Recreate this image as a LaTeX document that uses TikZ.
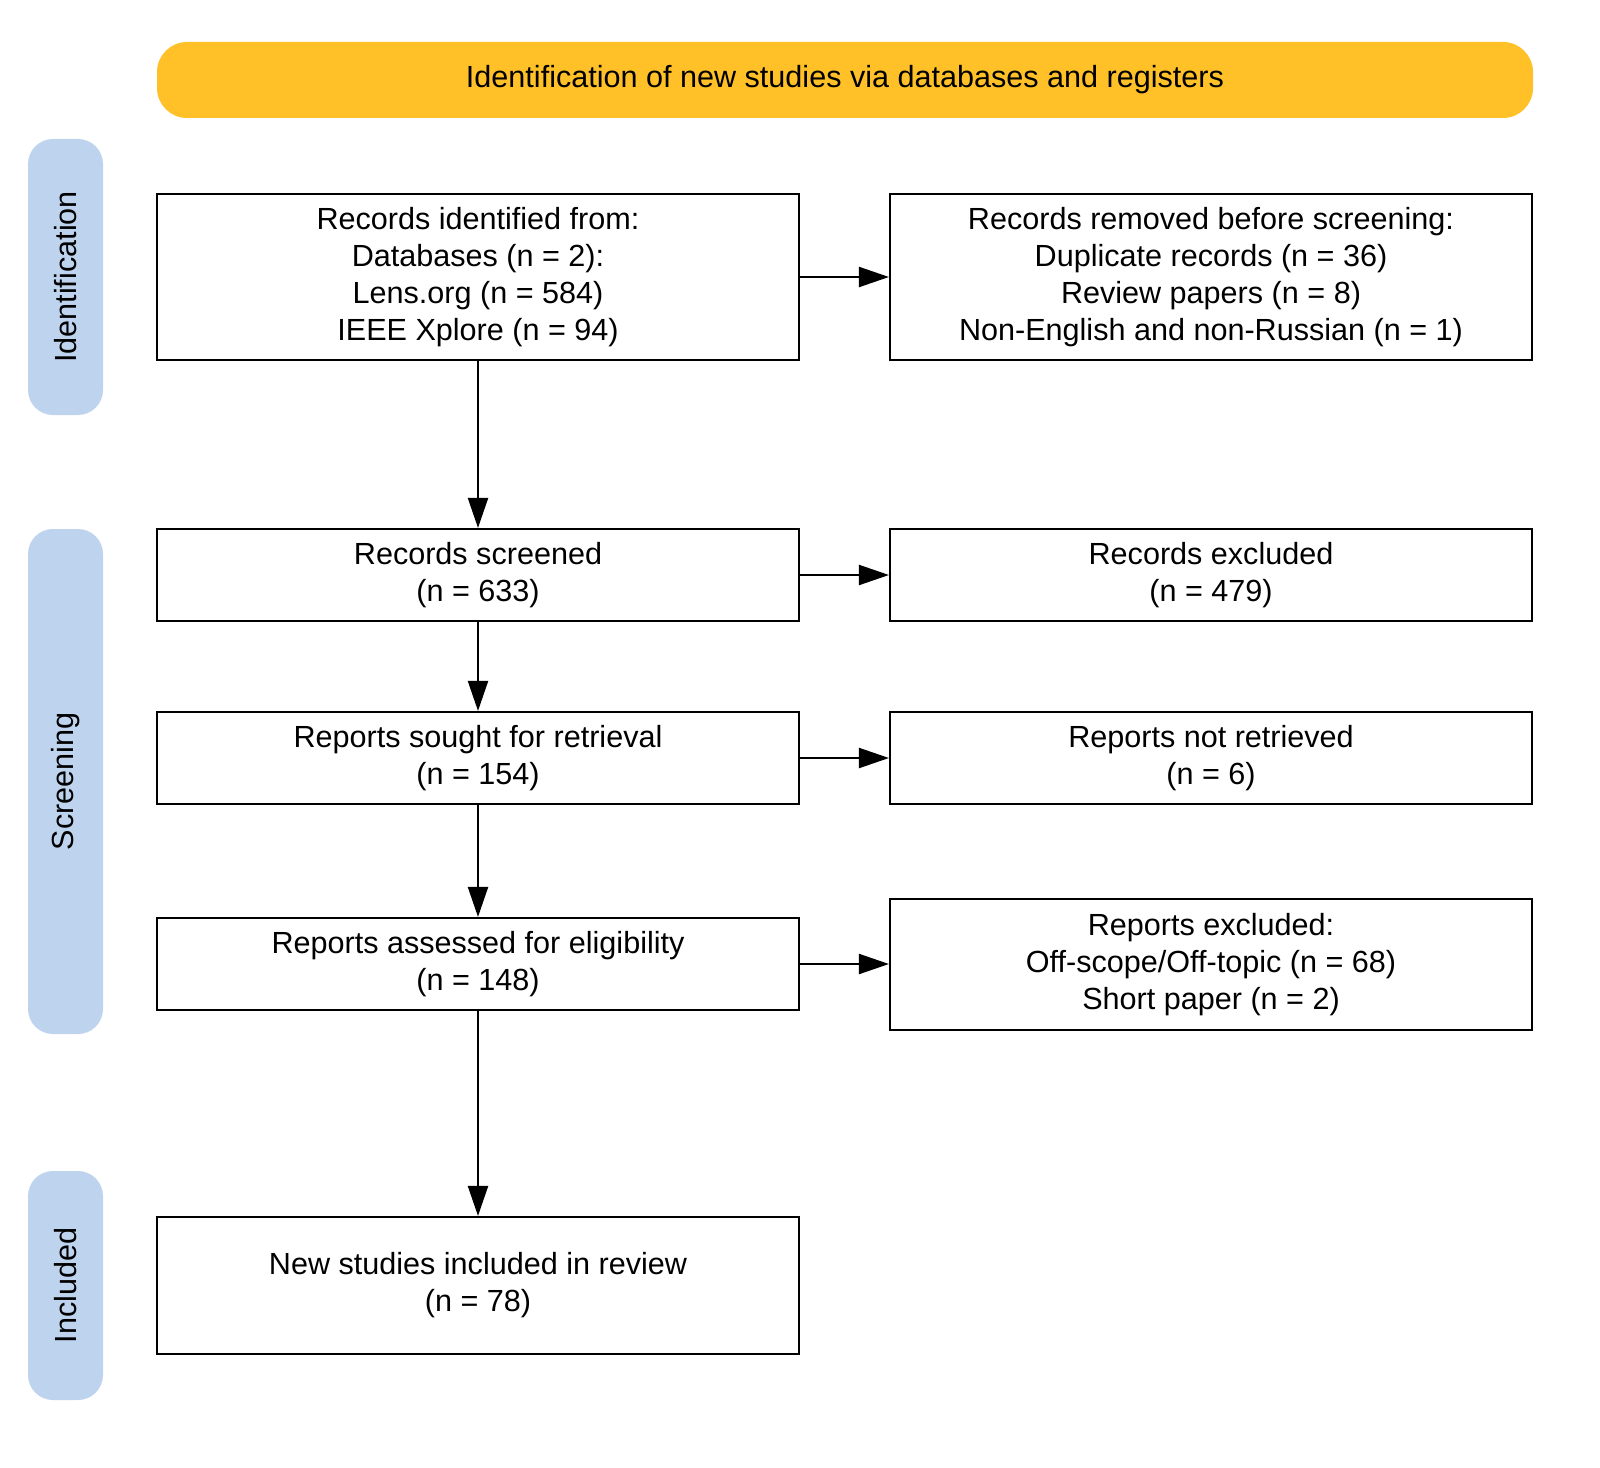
\documentclass[tikz,border=0pt]{standalone}
\usepackage{fontspec}
\setmainfont{Liberation Sans}
\usetikzlibrary{arrows.meta}

\definecolor{headyellow}{RGB}{255,193,39}
\definecolor{bandblue}{RGB}{190,211,238}

\tikzset{
  box/.style={draw, line width=0.6pt, rectangle, minimum width=6.42cm, inner sep=0pt, align=center,
    font=\fontsize{8.7pt}{10.5pt}\selectfont},
  band/.style={fill=bandblue, rounded corners=0.25cm, minimum height=0.75cm, inner sep=0pt, rotate=90,
    font=\fontsize{8.7pt}{10.5pt}\selectfont},
  flow/.style={line width=0.6pt, -{Triangle[length=0.3cm,width=0.2cm]}}
}

\begin{document}
\begin{tikzpicture}

  \useasboundingbox (0,0) rectangle (16,-14.67);

  % Draw the header
  \node[fill=headyellow, rounded corners=0.3cm, minimum width=13.76cm, minimum height=0.76cm, inner sep=0pt,
    font=\fontsize{8.7pt}{10.5pt}\selectfont] (head) at (8.45,-0.80) {Identification of new studies via databases and registers};

  % Draw the side bands
  \node[band, minimum width=2.76cm] (bandid) at (0.655,-2.77) {Identification};
  \node[band, minimum width=5.05cm] (bandscr) at (0.655,-7.815) {Screening};
  \node[band, minimum width=2.29cm] (bandinc) at (0.655,-12.855) {Included};

  % Draw the boxes on the left
  \node[box, minimum height=1.66cm] (ident) at (4.78,-2.77) {Records identified from:\\Databases (n = 2):\\Lens.org (n = 584)\\IEEE Xplore (n = 94)};
  \node[box, minimum height=0.92cm] (screen) at (4.78,-5.75) {Records screened\\(n = 633)};
  \node[box, minimum height=0.92cm] (sought) at (4.78,-7.58) {Reports sought for retrieval\\(n = 154)};
  \node[box, minimum height=0.92cm] (assess) at (4.78,-9.64) {Reports assessed for eligibility\\(n = 148)};
  \node[box, minimum height=1.37cm] (incl) at (4.78,-12.855) {New studies included in review\\(n = 78)};

  % Draw the boxes on the right
  \node[box, minimum height=1.66cm] (removed) at (12.11,-2.77) {Records removed before screening:\\Duplicate records (n = 36)\\Review papers (n = 8)\\Non-English and non-Russian (n = 1)};
  \node[box, minimum height=0.92cm] (excl) at (12.11,-5.75) {Records excluded\\(n = 479)};
  \node[box, minimum height=0.92cm] (notret) at (12.11,-7.58) {Reports not retrieved\\(n = 6)};
  \node[box, minimum height=1.31cm] (repexcl) at (12.11,-9.645) {Reports excluded:\\Off-scope/Off-topic (n = 68)\\Short paper (n = 2)};

  % Draw the arrows down
  \draw[flow] (ident) -- (screen);
  \draw[flow] (screen) -- (sought);
  \draw[flow] (sought) -- (assess);
  \draw[flow] (assess) -- (incl);

  % Draw the arrows to the right
  \draw[flow] (ident) -- (removed);
  \draw[flow] (screen) -- (excl);
  \draw[flow] (sought) -- (notret);
  \draw[flow] (assess) -- (assess -| repexcl.west);

\end{tikzpicture}
\end{document}
